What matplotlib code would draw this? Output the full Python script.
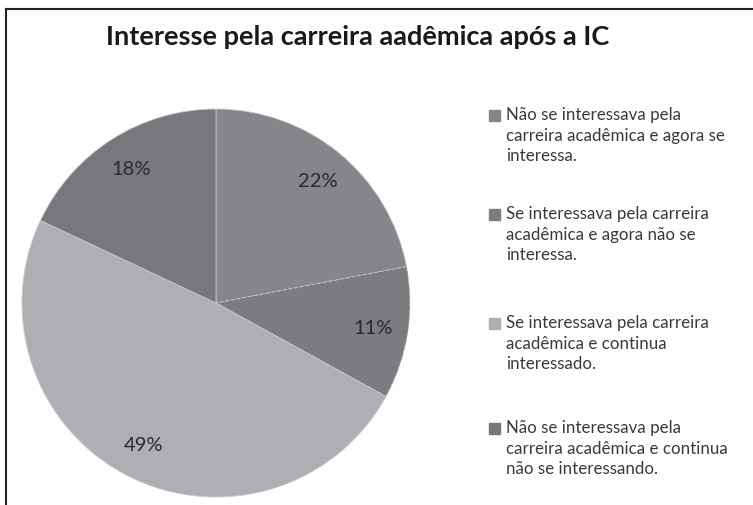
import matplotlib.pyplot as plt
import matplotlib.patches as mpatches

plt.rcParams['font.family'] = ['Lato', 'DejaVu Sans']

categorias = ['Não se interessava pela\ncarreira acadêmica e agora se\ninteressa.',
              'Se interessava pela carreira\nacadêmica e agora não se\ninteressa.',
              'Se interessava pela carreira\nacadêmica e continua\ninteressado.',
              'Não se interessava pela\ncarreira acadêmica e continua\nnão se interessando.']
valores = [22, 11, 49, 18]
cores = ['#858689', '#7b7c80', '#aeafb3', '#77787c']

fig = plt.figure(figsize=(7.53, 5.06), dpi=100)
W, H = 753, 506

# moldura do gráfico
fig.add_artist(plt.Line2D([6 / W, 6 / W], [0, 1 - 10 / H], color='#222222', lw=1.5))
fig.add_artist(plt.Line2D([6 / W, 1], [1 - 10 / H, 1 - 10 / H], color='#222222', lw=1.5))

# pizza: centro (216, 304), raio 194 px
r = 194
ax = fig.add_axes([(216 - r) / W, 1 - (304 + r) / H, 2 * r / W, 2 * r / H])
wedges, textos, pcts = ax.pie(valores, colors=cores, startangle=90, counterclock=False,
                              autopct='%d%%', pctdistance=0.82,
                              wedgeprops={'edgecolor': '#c8c8cc', 'linewidth': 0.6})
for t in pcts:
    t.set_fontsize(14.5)
    t.set_color('#2a2a2a')
# borda tracejada entre 22% e 11%
wedges[1].set_linestyle((0, (4, 3)))
ax.set_xlim(-1, 1)
ax.set_ylim(-1, 1)
ax.set_aspect('equal')

fig.text(358 / W, 1 - 37 / H, 'Interesse pela carreira aadêmica após a IC',
         ha='center', va='center', fontsize=19.5, fontweight='bold', color='#1a1a1a')

# legenda
y_topo = [117, 216, 325, 430]
for cat, cor, y in zip(categorias, cores, y_topo):
    fig.add_artist(mpatches.Rectangle((489 / W, 1 - (y + 5) / H), 11 / W, 11 / H,
                                      transform=fig.transFigure, color=cor))
    fig.text(506 / W, 1 - (y - 10) / H, cat, ha='left', va='top', fontsize=12.2,
             color='#3a3a3a', linespacing=1.36)

fig.savefig('out.png', dpi=100)
